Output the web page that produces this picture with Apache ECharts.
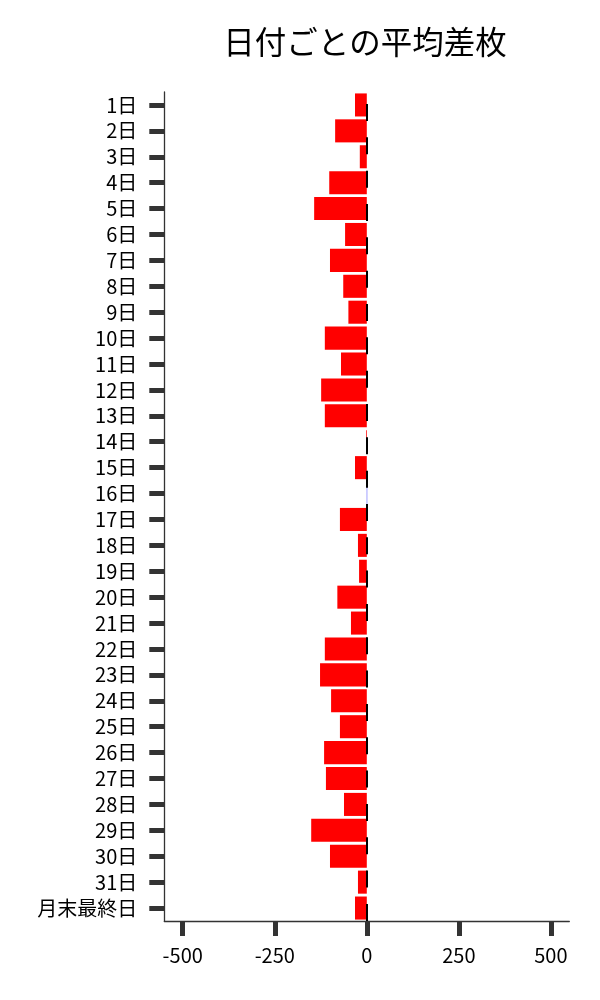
<!DOCTYPE html>
<html>
<head>
<meta charset="utf-8">
<script src="https://cdn.jsdelivr.net/npm/echarts@6/dist/echarts.min.js"></script>
<style>
html, body {margin: 0; padding: 0; background: #fff;}
#chart {width: 600px; height: 1000px;}
</style>
</head>
<body>
<div id="chart"></div>
<script>
var days = ['1日', '2日', '3日', '4日', '5日', '6日', '7日', '8日', '9日', '10日',
    '11日', '12日', '13日', '14日', '15日', '16日', '17日', '18日', '19日', '20日',
    '21日', '22日', '23日', '24日', '25日', '26日', '27日', '28日', '29日', '30日',
    '31日', '月末最終日'];
var avgDiff = [-32, -86, -19, -102, -143, -59, -100, -64, -50, -114,
    -70, -124, -114, -2, -32, 1, -73, -24, -21, -80,
    -43, -114, -127, -97, -73, -116, -111, -62, -151, -100,
    -24, -32];
var xTicks = [-500, -250, 0, 250, 500];

var font = '"Noto Sans CJK JP", "Noto Sans", sans-serif';
var myChart = echarts.init(document.getElementById('chart'), null, {renderer: 'canvas'});
var option = {
    animation: false,
    title: {
        text: '日付ごとの平均差枚',
        left: 365,
        top: 26,
        padding: 0,
        textAlign: 'center',
        textStyle: {fontFamily: font, fontSize: 31.5, fontWeight: 'normal', color: '#000'}
    },
    grid: {left: 164.3, right: 30.7, top: 92, bottom: 79},
    xAxis: {
        type: 'value',
        min: -550,
        max: 550,
        splitLine: {show: false},
        axisLine: {show: true, onZero: false, lineStyle: {color: '#333', width: 1.3}},
        axisTick: {show: true, length: 15, customValues: xTicks,
            lineStyle: {color: '#333', width: 5}},
        axisLabel: {customValues: xTicks, margin: 24, fontFamily: font, fontSize: 20, color: '#000'}
    },
    yAxis: {
        type: 'category',
        data: days,
        inverse: true,
        axisLine: {show: true, onZero: false, lineStyle: {color: '#333', width: 1.3}},
        axisTick: {show: true, alignWithLabel: true, interval: 0, length: 15,
            lineStyle: {color: '#333', width: 5}},
        axisLabel: {interval: 0, margin: 27, fontFamily: font, fontSize: 20, color: '#000'}
    },
    series: [{
        type: 'bar',
        data: avgDiff,
        barCategoryGap: '11%',
        itemStyle: {
            color: function (p) { return p.value < 0 ? '#ff0000' : '#0000ff'; }
        },
        markLine: {
            silent: true,
            symbol: 'none',
            label: {show: false},
            lineStyle: {color: '#000', width: 2, type: [17, 16.33], dashOffset: 21.33},
            data: [{xAxis: 0}]
        }
    }]
};
myChart.setOption(option);
</script>
</body>
</html>
